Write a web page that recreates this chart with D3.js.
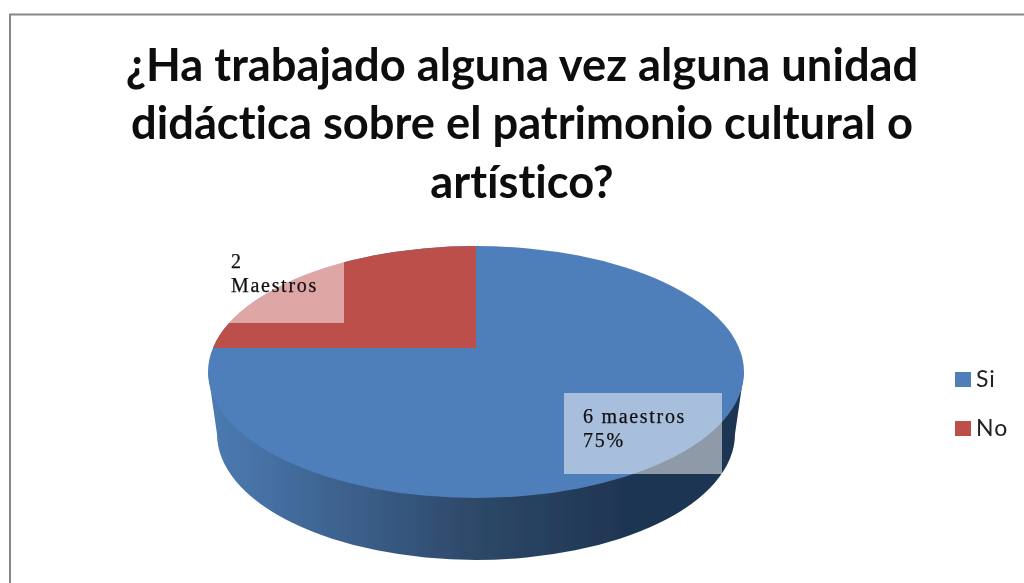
<!DOCTYPE html>
<html><head><meta charset="utf-8">
<script src="https://cdn.jsdelivr.net/npm/d3@7"></script>
<style>html,body{margin:0;padding:0;background:#fff;overflow:hidden}svg{display:block}text{font-variant-ligatures:none}</style>
</head><body><div id="c"></div>
<script>
const categories = ["Si", "No"];
const values = [6, 2];
const colors = ["#4f7fbb", "#bd4f4c"];
const titleLines = ["¿Ha trabajado alguna vez alguna unidad", "didáctica sobre el patrimonio cultural o", "artístico?"];
const dataLabels = [["6 maestros", "75%"], ["2", "Maestros"]];

const W = 1024, H = 583;
const root = d3.select("#c").append("svg").attr("width", W).attr("height", H);
const defs = root.append("defs");
defs.append("filter").attr("id", "soft").attr("x", 0).attr("y", 0).attr("width", 1).attr("height", 1)
  .attr("filterUnits", "userSpaceOnUse").attr("primitiveUnits", "userSpaceOnUse")
  .attr("width", W).attr("height", H)
  .append("feGaussianBlur").attr("stdDeviation", 0.45);
root.append("rect").attr("width", W).attr("height", H).attr("fill", "#fff");
const svg = root.append("g").attr("filter", "url(#soft)");

// frame
svg.append("rect").attr("x", 10).attr("y", 14.5).attr("width", W + 20).attr("height", H + 20)
  .attr("fill", "#fff").attr("stroke", "#868686").attr("stroke-width", 2);

// title
svg.append("g").selectAll("text").data(titleLines).join("text")
  .attr("x", 522).attr("y", (d, i) => 80.5 + i * 58.5)
  .attr("text-anchor", "middle").attr("font-family", "Lato, sans-serif")
  .attr("font-weight", 700).attr("font-size", 45.3).attr("fill", "#0c0c0c").text(d => d);

// pie geometry
const cx = 476, cy = 372, rx = 268, ry = 126, depth = 62, rxBottom = 259, apexY = 348;

const grad = defs.append("linearGradient").attr("id", "wall")
  .attr("gradientUnits", "userSpaceOnUse").attr("x1", cx - rx).attr("x2", cx + rx).attr("y1", 0).attr("y2", 0);
[[0, "#4c7bb3"], [0.5, "#2d4868"], [0.78, "#1f3552"], [1, "#1f3552"]].forEach(s =>
  grad.append("stop").attr("offset", s[0]).attr("stop-color", s[1]));

const wallD = `M${cx - rx},${cy}L${cx - rxBottom},${cy + depth}A${rxBottom},${ry} 0 0 0 ${cx + rxBottom},${cy + depth}L${cx + rx},${cy}Z`;
svg.append("path").attr("d", wallD).attr("fill", "url(#wall)");

// top face
const pieData = d3.pie().sort(null)(values);
const arc = d3.arc().innerRadius(0).outerRadius(rx);
defs.append("clipPath").attr("id", "above").append("rect")
  .attr("x", 0).attr("y", 0).attr("width", W).attr("height", apexY);

svg.append("ellipse").attr("cx", cx).attr("cy", cy).attr("rx", rx).attr("ry", ry).attr("fill", colors[0]);
const face = svg.append("g").attr("clip-path", "url(#above)")
  .append("g").attr("transform", `translate(${cx},${cy}) scale(1,${ry / rx})`);
face.selectAll("path").data(pieData.slice(1)).join("path")
  .attr("d", arc).attr("fill", (d, i) => colors[i + 1]);

// data label boxes
const boxes = [
  { x: 564, y: 393, w: 158, h: 81, tx: 583, ty: 423, lh: 24 },
  { x: 226, y: 250, w: 118, h: 73, tx: 231, ty: 268, lh: 24 }
];
boxes.forEach((b, i) => {
  svg.append("rect").attr("x", b.x).attr("y", b.y).attr("width", b.w).attr("height", b.h)
    .attr("fill", "#fff").attr("fill-opacity", 0.5);
  svg.append("g").selectAll("text").data(dataLabels[i]).join("text")
    .attr("x", b.tx).attr("y", (d, j) => b.ty + j * b.lh)
    .attr("font-family", "'Liberation Serif', serif").attr("font-size", 20)
    .attr("letter-spacing", 1.7).attr("stroke", "#111").attr("stroke-width", 0.25)
    .attr("fill", "#111").text(d => d);
});

// legend
const legend = svg.append("g").selectAll("g").data(categories).join("g")
  .attr("transform", (d, i) => `translate(955,${372 + i * 49})`);
legend.append("rect").attr("width", 16).attr("height", 15).attr("fill", (d, i) => colors[i]);
legend.append("text").attr("x", 21).attr("y", 15).attr("font-family", "Lato, sans-serif")
  .attr("font-size", 23).attr("letter-spacing", 1).attr("fill", "#222").text(d => d);
</script></body></html>
